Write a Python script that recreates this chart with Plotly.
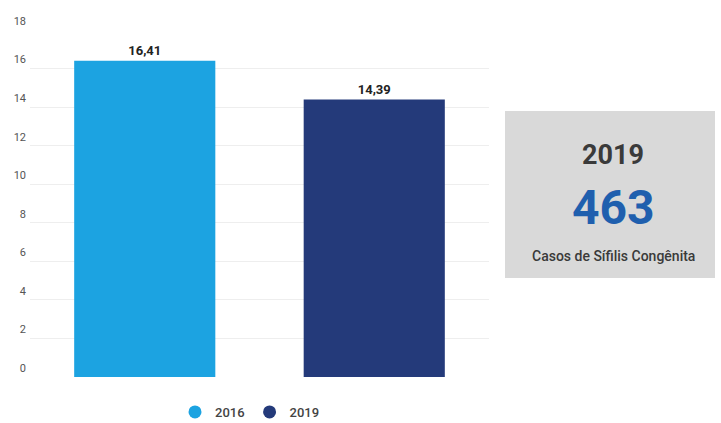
import plotly.graph_objects as go

# Taxa por ano
anos = ["2016", "2019"]
taxas = [16.41, 14.39]
cores = ["#1ca3e1", "#243a7a"]

# Destaque lateral
destaque_ano = "2019"
destaque_valor = "463"
destaque_rotulo = "Casos de Sífilis Congênita"

y_ticks = [0, 2, 4, 6, 8, 10, 12, 14, 16, 18]

fig = go.Figure()

fig.add_trace(go.Bar(
    x=anos,
    y=taxas,
    marker=dict(color=cores, line=dict(width=0)),
    width=0.615,
    texttemplate="%{y:.2f}",
    textposition="outside",
    textfont=dict(family="Roboto", size=13, color="#222222", weight="bold"),
    cliponaxis=False,
    showlegend=False,
    hoverinfo="skip",
))

# Legenda com marcadores circulares
for ano, cor in zip(anos, cores):
    fig.add_trace(go.Scatter(
        x=[None], y=[None], mode="markers", name=ano,
        marker=dict(symbol="circle", size=13, color=cor),
    ))

fig.update_layout(
    width=721, height=423,
    margin=dict(l=30, r=232, t=30, b=46, autoexpand=False),
    paper_bgcolor="white",
    plot_bgcolor="white",
    separators=",.",
    bargap=0.385,
    font=dict(family="Roboto", color="#555555"),
    xaxis=dict(showticklabels=False, showgrid=False, zeroline=False,
               showline=False, range=[-0.5, 1.5]),
    yaxis=dict(range=[0, 18], tickvals=y_ticks, showgrid=True,
               gridcolor="#eeeeee", gridwidth=1, zeroline=False,
               showline=False, ticks="", ticklabelshift=-9, ticklabelstandoff=3,
               tickfont=dict(family="Roboto", size=11, color="#555555")),
    legend=dict(orientation="h", xref="container", x=250 / 721, xanchor="center",
                yref="container", y=11 / 423, yanchor="middle",
                font=dict(family="Roboto", size=13, color="#444444", weight=500),
                itemwidth=30, tracegroupgap=0),
)

# Caixa de destaque
fig.add_shape(type="rect", xref="paper", yref="paper",
              x0=(505 - 30) / 459, x1=(715 - 30) / 459,
              y0=(377 - 278) / 347, y1=(377 - 111) / 347,
              fillcolor="#d9d9d9", line=dict(width=0), layer="below")

xc = (613 - 30) / 459
fig.add_annotation(xref="paper", yref="paper", x=xc, y=(377 - 155) / 347,
                   xanchor="center", yanchor="middle",
                   text=destaque_ano, showarrow=False,
                   font=dict(family="Roboto", size=27, color="#3a3a3a", weight="bold"))
fig.add_annotation(xref="paper", yref="paper", x=xc, y=(377 - 207) / 347,
                   xanchor="center", yanchor="middle",
                   text=destaque_valor, showarrow=False,
                   font=dict(family="Roboto", size=48, color="#1f5fae", weight="bold"))
fig.add_annotation(xref="paper", yref="paper", x=xc, y=(377 - 256) / 347,
                   xanchor="center", yanchor="middle",
                   text=destaque_rotulo, showarrow=False,
                   font=dict(family="Roboto", size=14, color="#3a3a3a", weight=500))

fig.write_html("out.html")
